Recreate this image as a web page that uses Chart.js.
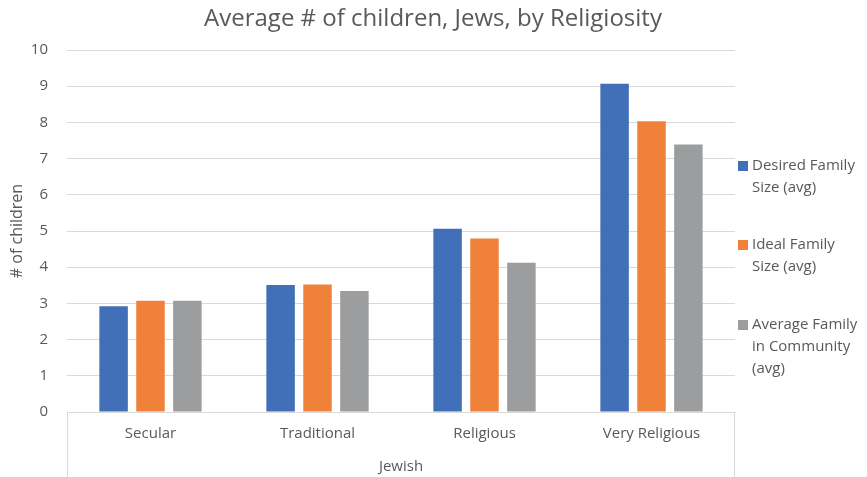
<!DOCTYPE html>
<html>
<head>
<meta charset="utf-8">
<script src="https://cdn.jsdelivr.net/npm/chart.js@4"></script>
<style>
  html, body { margin: 0; padding: 0; background: #fff; }
  #wrap { width: 867px; height: 477px; }
</style>
</head>
<body>
<div id="wrap"><canvas id="c"></canvas></div>
<script>
// data
const categories = ["Secular", "Traditional", "Religious", "Very Religious"];
const groupLabel = "Jewish";
const desiredSize = [2.92, 3.51, 5.06, 9.07];
const idealSize = [3.07, 3.52, 4.79, 8.03];
const communitySize = [3.07, 3.34, 4.12, 7.39];
const seriesNames = [["Desired Family", "Size (avg)"], ["Ideal Family", "Size (avg)"], ["Average Family", "in Community", "(avg)"]];
const yTicks = [0, 1, 2, 3, 4, 5, 6, 7, 8, 9, 10];

const FONT = "'Open Sans', 'Noto Sans', sans-serif";
const TEXT = "#595959";
const LINE = "#d9d9d9";

// titre + legende + cadre de l'axe
const decor = {
  id: "decor",
  afterDraw(chart) {
    const ctx = chart.ctx;
    const a = chart.chartArea;
    ctx.save();

    // titre
    ctx.fillStyle = TEXT;
    ctx.font = "24px " + FONT;
    ctx.textAlign = "center";
    ctx.textBaseline = "middle";
    ctx.fillText("Average # of children, Jews, by Religiosity", 433, 19);

    // lignes du cadre sous l'axe x
    ctx.strokeStyle = LINE;
    ctx.lineWidth = 1;
    ctx.beginPath();
    ctx.moveTo(a.left + 0.5, a.bottom);
    ctx.lineTo(a.left + 0.5, chart.height);
    ctx.moveTo(a.right - 0.5, a.bottom);
    ctx.lineTo(a.right - 0.5, chart.height);
    ctx.stroke();

    // legende
    const starts = [166, 245, 325];
    ctx.font = "15px " + FONT;
    ctx.textAlign = "left";
    chart.data.datasets.forEach((ds, i) => {
      const y0 = starts[i];
      ctx.fillStyle = ds.backgroundColor;
      ctx.fillRect(a.right + 3, y0 - 5, 10, 10);
      ctx.fillStyle = TEXT;
      seriesNames[i].forEach((line, j) => {
        ctx.fillText(line, a.right + 17, y0 + j * 21.7);
      });
    });
    ctx.restore();
  }
};

new Chart(document.getElementById("c"), {
  type: "bar",
  data: {
    labels: categories,
    datasets: [
      { label: seriesNames[0].join(" "), data: desiredSize, backgroundColor: "#4170b8" },
      { label: seriesNames[1].join(" "), data: idealSize, backgroundColor: "#f0813a" },
      { label: seriesNames[2].join(" "), data: communitySize, backgroundColor: "#9b9d9e" }
    ]
  },
  options: {
    responsive: true,
    maintainAspectRatio: false,
    animation: false,
    layout: { padding: { top: 50, right: 132, bottom: 0, left: 0 } },
    categoryPercentage: 0.663,
    barPercentage: 0.772,
    plugins: {
      legend: { display: false },
      title: { display: false },
      tooltip: { enabled: false }
    },
    scales: {
      x: {
        grid: { display: false, drawTicks: false },
        border: { display: true, color: LINE, width: 1 },
        ticks: { color: TEXT, font: { family: FONT, size: 15 }, padding: 13, maxRotation: 0 },
        title: { display: true, text: groupLabel, color: TEXT, font: { family: FONT, size: 15 }, padding: { top: 0, bottom: 1 } },
        afterFit(scale) { scale.height = 65; }
      },
      y: {
        min: 0,
        max: 10,
        afterBuildTicks(scale) { scale.ticks = yTicks.map(v => ({ value: v })); },
        grid: { color: LINE, drawTicks: false },
        border: { display: false },
        ticks: { color: TEXT, font: { family: FONT, size: 15 }, padding: 19 },
        title: { display: true, text: "# of children", color: TEXT, font: { family: FONT, size: 16 }, padding: { top: 8, bottom: 0 } },
        afterFit(scale) { scale.width = 67; }
      }
    }
  },
  plugins: [decor]
});
</script>
</body>
</html>
